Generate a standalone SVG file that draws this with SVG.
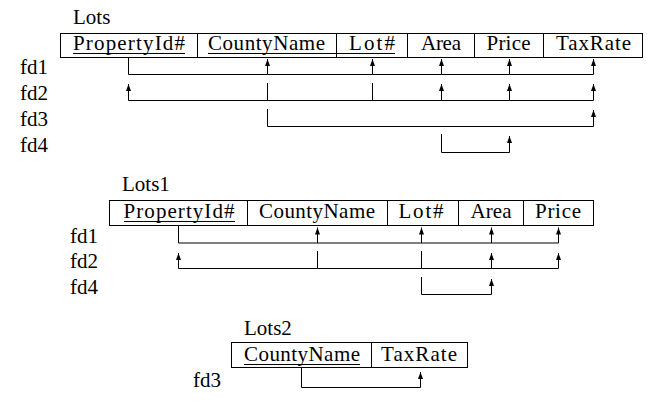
<svg xmlns="http://www.w3.org/2000/svg" width="658" height="403" viewBox="0 0 658 403">
<style>
text{font-family:"Liberation Serif","Times New Roman",serif;font-size:21px;fill:#000}
.c{text-anchor:middle}
.box{fill:#fff;stroke:#000;stroke-width:1}
.ul{stroke:#000;stroke-width:1}
.ln{fill:none;stroke:#000;stroke-width:1}
.ar{fill:none;stroke:#000;stroke-width:1;marker-end:url(#ah)}
</style>
<defs>
<marker id="ah" markerUnits="userSpaceOnUse" markerWidth="8" markerHeight="6" refX="7" refY="2.5" orient="auto">
<path d="M0,0 L7,2.5 L0,5 z" fill="#000"/>
</marker>
</defs>
<rect width="658" height="403" fill="#fff"/>

<g id="Lots">
<text x="73" y="24">Lots</text>
<rect class="box" x="60.5" y="33.5" width="582" height="24"/>
<path class="ln" d="M197.5,33.5V57.5M336.5,33.5V57.5M407.5,33.5V57.5M474.5,33.5V57.5M543.5,33.5V57.5"/>
<text class="c" x="129" y="50" textLength="112">PropertyId#</text>
<text class="c" x="266.5" y="50" textLength="117">CountyName</text>
<text class="c" x="372" y="50" textLength="46">Lot#</text>
<text class="c" x="441" y="50" textLength="40">Area</text>
<text class="c" x="508.5" y="50" textLength="44">Price</text>
<text class="c" x="593.5" y="50" textLength="75">TaxRate</text>
<path class="ul" d="M73,53.5H185M208,53.5H395"/>
<text x="20" y="74">fd1</text>
<text x="20" y="100">fd2</text>
<text x="20" y="126">fd3</text>
<text x="20" y="152">fd4</text>
</g>

<g id="Lots1">
<text x="122" y="191">Lots1</text>
<rect class="box" x="109.5" y="200.5" width="484" height="25"/>
<path class="ln" d="M247.5,200.5V225.5M387.5,200.5V225.5M458.5,200.5V225.5M523.5,200.5V225.5"/>
<text class="c" x="179" y="218" textLength="111">PropertyId#</text>
<text class="c" x="317" y="218" textLength="116">CountyName</text>
<text class="c" x="421" y="218" textLength="45">Lot#</text>
<text class="c" x="491" y="218" textLength="41">Area</text>
<text class="c" x="558" y="218" textLength="46">Price</text>
<path class="ul" d="M124,221.5H235"/>
<text x="70" y="243">fd1</text>
<text x="70" y="268">fd2</text>
<text x="70" y="294">fd4</text>
</g>

<g id="Lots2">
<text x="244" y="335">Lots2</text>
<rect class="box" x="231.5" y="342.5" width="236" height="25"/>
<path class="ln" d="M371.5,342.5V367.5"/>
<text class="c" x="302" y="361" textLength="116">CountyName</text>
<text class="c" x="419" y="361" textLength="76">TaxRate</text>
<path class="ul" d="M244,364.5H360"/>
<text x="193" y="387">fd3</text>
</g>

<g id="connectors">
<path class="ar" d="M128.5,57.5V74.5H593.5V59"/>
<path class="ar" d="M267.5,74.5V59"/>
<path class="ar" d="M372.5,74.5V59"/>
<path class="ar" d="M441.5,74.5V59"/>
<path class="ar" d="M509.5,74.5V59"/>
<path class="ln" d="M128.5,100.5H593.5"/>
<path class="ar" d="M128.5,100.5V84"/>
<path class="ln" d="M267.5,83V100.5M372.5,83V100.5"/>
<path class="ar" d="M441.5,100.5V84"/>
<path class="ar" d="M509.5,100.5V84"/>
<path class="ar" d="M593.5,100.5V84"/>
<path class="ar" d="M267.5,109V126.5H593.5V110"/>
<path class="ar" d="M441.5,134V152.5H509.5V136"/>
<path class="ar" d="M178.5,225.5V243H558.5V227.5"/>
<path class="ar" d="M317.5,243V227.5"/>
<path class="ar" d="M421.5,243V227.5"/>
<path class="ar" d="M491.5,243V227.5"/>
<path class="ln" d="M178.5,268.5H558.5"/>
<path class="ar" d="M178.5,268.5V253"/>
<path class="ln" d="M317.5,251V268.5M421.5,251V268.5"/>
<path class="ar" d="M491.5,268.5V253"/>
<path class="ar" d="M558.5,268.5V253"/>
<path class="ar" d="M421.5,277V294.5H491.5V279"/>
<path class="ar" d="M301.5,367.5V387.5H420.5V372"/>
</g>
</svg>
